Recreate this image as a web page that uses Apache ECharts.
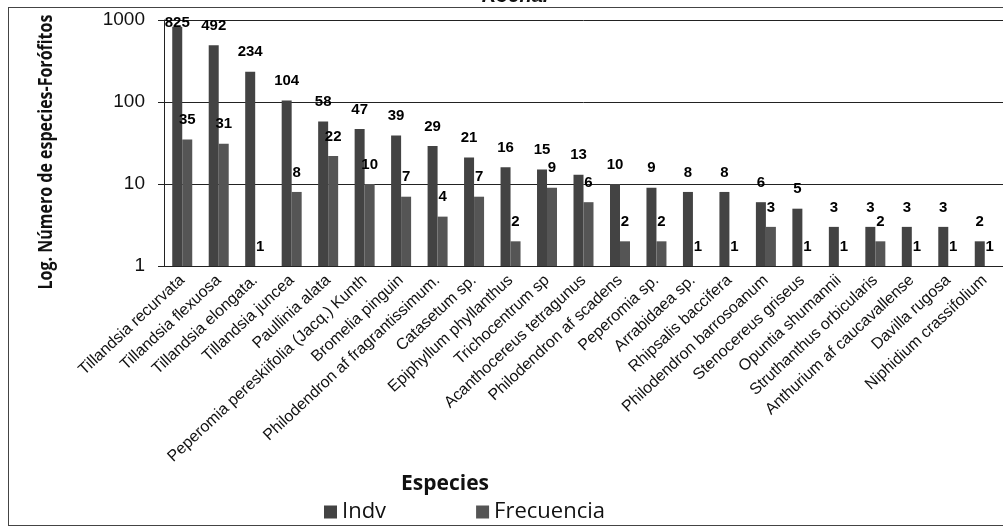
<!DOCTYPE html>
<html>
<head>
<meta charset="utf-8">
<script src="https://cdn.jsdelivr.net/npm/echarts@6/dist/echarts.min.js"></script>
<style>
  html, body { margin: 0; padding: 0; background: #fff; overflow: hidden; }
  #frame { position: absolute; left: 8px; top: 7px; width: 1100px; height: 517px; border: 1px solid #444; }
  #chart { position: absolute; left: 0; top: 0; width: 1003px; height: 530px; }
</style>
</head>
<body>
<div id="frame"></div>
<div id="chart"></div>
<script>
const especies = [
  'Tillandsia recurvata', 'Tillandsia flexuosa', 'Tillandsia elongata.', 'Tillandsia juncea',
  'Paullinia alata', 'Peperomia pereskiifolia (Jacq.) Kunth', 'Bromelia pinguin',
  'Philodendron af fragrantissimum.', 'Catasetum sp.', 'Epiphyllum phyllanthus',
  'Trichocentrum sp', 'Acanthocereus tetragunus', 'Philodendron af scadens', 'Peperomia sp.',
  'Arrabidaea sp.', 'Rhipsalis baccifera', 'Philodendron barrosoanum', 'Stenocereus griseus',
  'Opuntia shumannii', 'Struthanthus orbicularis', 'Anthurium af caucavallense',
  'Davilla rugosa', 'Niphidium crassifolium'
]
const indv = [825, 492, 234, 104, 58, 47, 39, 29, 21, 16, 15, 13, 10, 9, 8, 8, 6, 5, 3, 3, 3, 3, 2]
const frecuencia = [35, 31, 1, 8, 22, 10, 7, 4, 7, 2, 9, 6, 2, 2, 1, 1, 3, 1, 1, 2, 1, 1, 1]

const chart = echarts.init(document.getElementById('chart'), null, { renderer: 'canvas' })

const labelStyle = {
  show: true,
  position: 'top',
  distance: 12,
  color: '#000',
  fontFamily: 'Liberation Sans, Arial, sans-serif',
  fontWeight: 'bold',
  fontSize: 15
}

// the tallest label is held inside the plot area, as in the original
const indvData = indv.map((v) => (v > 500 && v === Math.max(...indv) ? { value: v, label: { distance: -4 } } : v))

chart.setOption({
  animation: false,
  title: [
    {
      text: 'Rocha.',
      left: 510,
      top: -19,
      textAlign: 'center',
      textStyle: { fontFamily: 'Liberation Sans, Arial', fontStyle: 'italic', fontWeight: 'bold', fontSize: 20, color: '#111' }
    },
    {
      text: 'Especies',
      left: 440,
      top: 469,
      textAlign: 'center',
      textStyle: { fontFamily: 'Open Sans', fontWeight: 'bold', fontSize: 21, color: '#111' }
    }
  ],
  graphic: [
    {
      type: 'text',
      x: 46,
      y: 152,
      rotation: Math.PI / 2,
      scaleX: 0.8,
      style: {
        text: 'Log. Número de especies-Forófitos',
        fontFamily: 'Open Sans',
        fontWeight: 'bold',
        fontSize: 20,
        fill: '#111',
        align: 'center',
        verticalAlign: 'middle'
      }
    }
  ],
  legend: {
    left: 319,
    top: 496,
    itemGap: 90,
    itemWidth: 13,
    itemHeight: 13,
    icon: 'rect',
    textStyle: { fontFamily: 'Open Sans', fontSize: 22, color: '#111' },
    data: ['Indv', 'Frecuencia']
  },
  grid: { left: 164, right: 0, top: 20, bottom: 264, outerBoundsMode: 'none', containLabel: false },
  xAxis: {
    type: 'category',
    data: especies,
    axisLine: { lineStyle: { color: '#222', width: 1 } },
    axisTick: { show: false },
    axisLabel: {
      interval: 0,
      rotate: 43,
      margin: 12,
      color: '#111',
      fontFamily: 'Liberation Sans, Arial',
      fontSize: 16
    }
  },
  yAxis: {
    type: 'log',
    logBase: 10,
    min: 1,
    max: 1000,
    axisLine: { show: true, lineStyle: { color: '#222' } },
    axisTick: { show: true, length: 6, inside: false, lineStyle: { color: '#222' } },
    minorTick: { show: false },
    splitLine: { show: true, lineStyle: { color: '#222', width: 1 } },
    axisLabel: {
      margin: 19,
      color: '#111',
      fontFamily: 'Liberation Sans, Arial',
      fontSize: 19,
      formatter: (v) => String(Math.round(v))
    }
  },
  series: [
    {
      name: 'Indv',
      type: 'bar',
      data: indvData,
      barWidth: 10,
      barGap: '0%',
      itemStyle: { color: '#434343' },
      label: labelStyle
    },
    {
      name: 'Frecuencia',
      type: 'bar',
      data: frecuencia,
      barWidth: 10,
      itemStyle: { color: '#555555' },
      label: labelStyle
    }
  ]
})
</script>
</body>
</html>
